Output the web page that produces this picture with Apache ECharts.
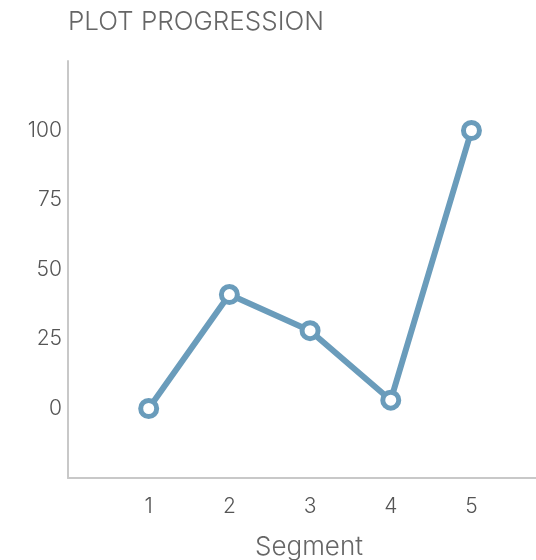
<!DOCTYPE html>
<html>
<head>
<meta charset="utf-8">
<script src="https://cdn.jsdelivr.net/npm/echarts@6/dist/echarts.min.js"></script>
<style>
  html, body { margin: 0; padding: 0; background: #fff; }
  #chart { width: 536px; height: 560px; }
</style>
</head>
<body>
<div id="chart"></div>
<script>
var segments = [1, 2, 3, 4, 5]
var progress = [0, 41, 28, 3, 100]
var yTicks = [0, 25, 50, 75, 100]

var chart = echarts.init(document.getElementById('chart'))
var font = 'Inter, Lato, sans-serif'

var option = {
  backgroundColor: '#fff',
  title: {
    text: 'PLOT PROGRESSION',
    left: 63,
    top: 4,
    textStyle: { fontFamily: font, fontWeight: 300, fontSize: 26, color: '#666' }
  },
  grid: { left: 68, right: 0, top: 61, bottom: 82, containLabel: false, outerBoundsMode: 'none' },
  xAxis: {
    type: 'value',
    min: 0,
    max: 5.8,
    interval: 1,
    name: 'Segment',
    nameLocation: 'middle',
    nameGap: 56,
    nameTextStyle: { fontFamily: font, fontWeight: 300, fontSize: 26, color: '#666', padding: [0, 0, 0, 14] },
    axisLine: { show: true, onZero: false, lineStyle: { color: '#c8c8c8', width: 2 } },
    axisTick: { show: false },
    splitLine: { show: false },
    axisLabel: {
      margin: 18,
      fontFamily: font, fontWeight: 300, fontSize: 21, color: '#555',
      formatter: function (v) { return segments.indexOf(v) >= 0 ? String(v) : '' }
    }
  },
  yAxis: {
    type: 'value',
    min: -25,
    max: 125,
    interval: 25,
    axisLine: { show: true, onZero: false, lineStyle: { color: '#c8c8c8', width: 2 } },
    axisTick: { show: false },
    splitLine: { show: false },
    axisLabel: {
      margin: 6,
      fontFamily: font, fontWeight: 300, fontSize: 21, color: '#555',
      formatter: function (v) { return yTicks.indexOf(v) >= 0 ? String(v) : '' }
    }
  },
  series: [{
    type: 'line',
    data: segments.map(function (s, i) { return [s, progress[i]] }),
    symbol: 'circle',
    symbolSize: 16,
    lineStyle: { color: '#6a9cbb', width: 6 },
    itemStyle: { color: '#fff', borderColor: '#6a9cbb', borderWidth: 5 },
    emphasis: { disabled: true }
  }]
}
chart.setOption(option)
</script>
</body>
</html>
